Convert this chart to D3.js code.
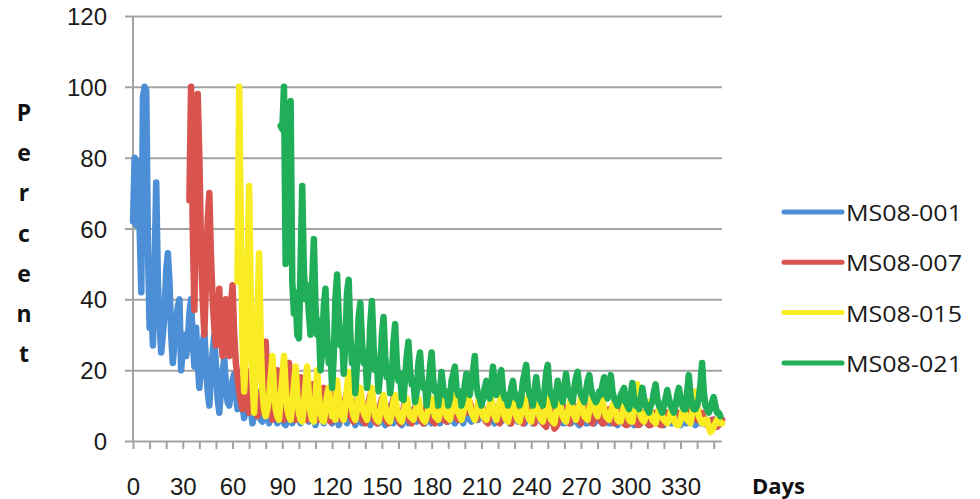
<!DOCTYPE html>
<html>
<head>
<meta charset="utf-8">
<script src="https://cdn.jsdelivr.net/npm/d3@7"></script>
<style>
  body { margin: 0; background: #fff; }
  svg { display: block; font-family: "Open Sans", sans-serif; }
</style>
</head>
<body>
<svg id="chart" width="980" height="499"></svg>
<script>
// daily percent values, each series starts on its own day
const seriesNames = ["MS08-001", "MS08-007", "MS08-015", "MS08-021"]
const seriesColors = ["#4d8fd6", "#d9534f", "#f9ec22", "#21ae58"]
const firstDay = [0, 34, 63, 89]
const yTicks = [0, 20, 40, 60, 80, 100, 120]
const xTickLabels = [0, 30, 60, 90, 120, 150, 180, 210, 240, 270, 300, 330]

const pct001 = [62,80,61,79,60,42,97,100,99,55,32,40,27,50,73,45,33,25,30,36,48,53,45,30,22,28,33,38,40,20,
  26,30,24,28,36,40,28,21,32,22,15,20,27,31,22,14,10,18,25,30,21,12,8,14,20,23,16,11,10,14,
  17,19,13,9,12,16,10,6.5,9,13,15,9,5,7,11,14,9,6,5.5,8,11,7,5,9,11,13,8,5,7,10,
  7,5,4.5,8,12,8,5,7,9,11,7,5,8,12,8,6,5.5,8,10,7,4.5,7,9,11,7,5,7,10,7,6,
  5,8,11,7,4.5,6,8,10,7,5,8,11,7,6,4.5,7,10,7,5,6,8,9,6,4.5,7,10,7,6,5,7,
  9,6,4.5,6,8,10,7,5,7,9,6,5,4.5,7,9,6,5,7,8,9,6,5.5,7,9,6,5,5,7,8,6,
  5,6,8,9,6,5,6,8,7,6,5.5,7,9,6,5,6,7,8,6,5,7,9,7,6,5.5,7,8,7,6,7,
  8,9,7,5.5,6,8,7,6,5,7,9,7,5.5,6,7,8,6,5,6,8,7,6,5.5,7,9,6,5,6,7,8,
  6,5,6,8,7,6,5.5,7,8,6,5,6,7,8,6,4.5,6,8,6,5,5,7,8,6,5,6,7,7,5,4.5,
  6,8,6,5,5,6,7,6,5,6,7,8,6,5,6,7,6,5,5,6,7,5,4.5,6,7,7,5,5,6,7,
  5,5,4.5,6,7,6,5,6,7,7,5,4.5,6,7,6,5,5,6,6.5,5,4.5,6,7,7,5,5,6,6.5,5,5,
  4.5,6,6.5,5,5,6,7,7,5,4.5,6,6.5,5,5,5,6,6,5,4,5,6,6,5,4.5,5,6]

const pct007 = [68,100,60,37,70,98,80,55,40,30,45,62,70,52,40,32,27,36,43,32,24,30,40,32,24,38,44,30,22,18,
  14,11,9,15,20,12,8,10,14,18,11,7,8,12,15,22,28,16,10,8,6,10,15,20,12,8,7,6,12,18,
  22,14,9,7,6,10,15,18,11,8,7,6,10,13,16,10,7,6.5,6,9,12,15,10,7,6,5.5,8,11,14,9,
  7,6.5,6,9,12,14,9,7,6,5.5,8,11,13,9,6,5.5,5,8,11,13,9,6,5.5,5,8,10,12,8,6,5.5,
  5,8,10,12,9,7,6,5,7,9,11,8,6,5.5,5,7,9,11,8,6,5.5,5,8,10,12,8,6,5.5,5,7,
  9,11,8,6,6,5.5,8,10,12,9,7,6.5,6,8,10,11,9,8,10,11,9,7,6.5,6,8,10,11,8,6,5.5,
  5,7,9,10,8,6,5.5,5,7,9,11,8,6,5.5,5,7,9,10,8,6,5.5,5,7,9,11,8,6,5.5,5,7,
  9,10,7,5,4.5,4,6,8,9,6,3.5,4,5,7,9,10,8,6,5.5,5,7,9,10,8,6,5.5,5,7,9,10,
  8,6,5.5,5,7,8,9,7,5.5,5,5,7,8,9,7,5.5,5,5,7,8,9,7,5,4.5,4.5,6,8,9,7,5,
  4.5,4.5,6,7,8,6,5,4.5,4.5,6,7,8,6,5,4.5,4.5,6,7,8,7,6,7,7,8,8,8,7,7,8,8,
  9,9,9,8,7,7,6,7,8,8,6,5,4.5,4,5,6,6,5,4,4.5,5,6]

const pct015 = [45,100,60,28,14,25,45,72,40,18,8,20,35,53,28,14,9,7,9,12,18,24,15,9,7,6,12,18,24,15,
  9,7,6,10,16,21,13,8,6,5.5,10,16,21,13,8,6,5.5,12,20,13,8,6,5.5,9,13,15,10,7,9,6,
  17,12,8,7,6,10,15,19.5,13,9,7,6,9,13,15,11,8,7,6,9,12,15,10,7,6,5.5,8,11,13,10,
  7,6,5.5,8,11,13,9,7,6,5.5,8,10,12,9,7,6.5,6,8,10,12,9,7,6,5.5,7,9,11,12,9,7,
  6.5,6,8,11,13,10,7,6.5,6,8,11,13,10,8,7,6,8,10,12,14,10,8,7,6,8,11,13,10,7,6.5,
  6,8,10,12,9,7,6,8,11,13,10,7,6,5.5,8,10,12,9,7,6,5.5,8,10,12,9,7,6,5.5,8,
  10,12,9,7,6,5.5,8,10,12,8,6,5.5,5,8,10,12,9,7,6,5.5,8,10,12,9,7,6,8,10,12,
  9,7,6.5,6,9,11,13,10,8,7,9,11,12,9,7,6.5,6,8,10,11,8,6,5.5,5.5,8,10,11,8,6,
  5.5,5.5,9,13,16,10,7,6,5.5,7,9,11,8,6,5.5,5,7,9,10,7,6,5.5,5,6,8,9,6,5,4.5,4.5,
  6,8,10,7,6,5.5,5,8,11,14,10,7,6,5,5,6,6,4,2.5,3,4,5,6,6,5,5]

const pct021 = [89,88,100,50,62,94,96,45,36,42,30,29,50,72,48,40,44,36,30,45,57,38,30,34,20,25,38,43,30,22,
  26,15,24,40,47,35,27,30,19,28,42,45.5,30,22,26,13.5,22,35,39,28,22,25,15,20,33,39.5,27,20,22,14,
  19,30,35,24,18,20,13.5,18,28,33,22,17,19,12,11.6,18,24,28,20,16,17,11,14,22,25,18,15,16,10,14,
  21,25,17,14,15,10,14,19.5,15,13,14,10,12,17,19,21,15,13,14,10,12,16,19,14,13,17,20,24,16,13,
  12,10,12,15,17,14,12,16,21,15,13,15,18,20,14,12,13,10,12,15,17,13,12,13,10,12,17,19,21.5,15,
  13,12,10,14,18,14,12,11,10,14,19,21.5,15,13,12,10,13,17,14,13,11,15,19,15,13,12,11,15,18,
  19.5,15,13,12,11,14,17,18.6,15,13,12,11,12,14,13,16,18,14,12,15,18.6,14,12,11,10,11,13,14,15,
  11,10,9,13,16.4,12,10,11,9,12,15,12,10,9,8,10,11,14,16,12,10,9,8,10,12,14.4,12,10,9,
  8,10,13,15,12,10,9,9,14,18.6,13,10,9,9,10,12,16,22,14,10,9,8,9,11,12.4,10,8,8,7]

const allSeries = [pct001, pct007, pct015, pct021]
  .map((vals, i) => vals.map((v, j) => [firstDay[i] + j, v]))

const svg = d3.select("#chart")
svg.append("rect").attr("width", 980).attr("height", 499).attr("fill", "#fff")

const x = d3.scaleLinear().domain([0, 355]).range([133, 722])
const y = d3.scaleLinear().domain([0, 120]).range([441, 16])

// gridlines + y labels
const yAxis = svg.append("g")
  .attr("transform", "translate(125,0)")
  .call(d3.axisLeft(y).tickValues(yTicks).tickSize(-(722 - 125)).tickPadding(18))
yAxis.select(".domain").remove()
yAxis.selectAll(".tick line").attr("stroke", "#a3a3a3").attr("stroke-width", 2)
yAxis.selectAll(".tick text")
  .attr("fill", "#1a1a1a").attr("font-size", 24).attr("dy", null)
  .attr("dominant-baseline", "central")

// vertical axis line
svg.append("line")
  .attr("x1", 133).attr("x2", 133).attr("y1", y(120)).attr("y2", y(0))
  .attr("stroke", "#a3a3a3").attr("stroke-width", 2)

// x axis ticks every 10 days, labels every 30
const xAxis = svg.append("g")
  .attr("transform", "translate(0," + y(0) + ")")
  .call(d3.axisBottom(x).tickValues(d3.range(0, 351, 10)).tickSize(8)
    .tickFormat(d => xTickLabels.includes(d) ? d : ""))
xAxis.select(".domain").remove()
xAxis.selectAll(".tick line").attr("stroke", "#a3a3a3").attr("stroke-width", 2)
xAxis.selectAll(".tick text")
  .attr("fill", "#1a1a1a").attr("font-size", 24)
  .attr("y", 45).attr("dy", null).attr("dominant-baseline", "central")

// the series, blue drawn first, green last
const line = d3.line().x(d => x(d[0])).y(d => y(d[1]))
svg.append("g").selectAll("path")
  .data(allSeries)
  .join("path")
  .attr("d", line)
  .attr("fill", "none")
  .attr("stroke", (d, i) => seriesColors[i])
  .attr("stroke-width", 6.5)
  .attr("stroke-linejoin", "round")
  .attr("stroke-linecap", "round")

// y title, one letter per row
const title = "Percent".split("")
svg.append("g").selectAll("text")
  .data(title)
  .join("text")
  .attr("x", 24)
  .attr("y", (d, i) => 112 + i * 40.2)
  .attr("text-anchor", "middle")
  .attr("dominant-baseline", "central")
  .attr("font-size", 23).attr("font-weight", "bold").attr("fill", "#111")
  .text(d => d)

svg.append("text")
  .attr("x", 752).attr("y", 485)
  .attr("dominant-baseline", "central")
  .attr("font-size", 22).attr("font-weight", "bold").attr("fill", "#111")
  .text("Days")

// legend
const legend = svg.append("g").selectAll("g")
  .data(seriesNames)
  .join("g")
  .attr("transform", (d, i) => "translate(784," + (212 + i * 50.3) + ")")
legend.append("line")
  .attr("x1", 0).attr("x2", 58)
  .attr("stroke", (d, i) => seriesColors[i])
  .attr("stroke-width", 5)
  .attr("stroke-linecap", "round")
legend.append("text")
  .attr("x", 62)
  .attr("dominant-baseline", "central")
  .attr("font-size", 22).attr("fill", "#1a1a1a")
  .attr("textLength", 116).attr("lengthAdjust", "spacingAndGlyphs")
  .text(d => d)
</script>
</body>
</html>
